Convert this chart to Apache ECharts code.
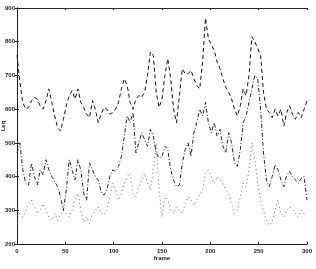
<!DOCTYPE html>
<html><head><meta charset="utf-8">
<script src="https://cdn.jsdelivr.net/npm/echarts@6/dist/echarts.min.js"></script>
<style>html,body{margin:0;padding:0;background:#fff}#c{width:316px;height:269px}</style>
</head><body><div id="c"></div>
<script>
const frames = [];
for (let f = 0; f <= 300; f += 3) frames.push(f);
const xTicks = [0, 50, 100, 150, 200, 250, 300];
const yTicks = [200, 300, 400, 500, 600, 700, 800, 900];
const upper = [760,680,620,600,605,625,635,630,610,600,625,660,620,580,545,535,570,610,640,655,630,660,620,605,585,575,625,600,560,585,605,600,585,590,600,620,660,690,670,620,600,630,640,635,650,700,770,760,650,605,630,700,750,690,600,560,640,720,705,705,715,690,670,660,740,870,810,790,775,740,720,690,665,650,630,600,580,610,660,640,700,815,800,780,760,650,600,590,575,600,580,600,550,590,610,585,570,590,575,600,625];
const middle = [470,500,420,380,375,440,400,375,420,405,450,420,400,385,370,340,300,360,450,420,390,450,420,350,330,440,420,400,390,355,345,360,400,420,415,430,460,520,580,560,590,470,500,530,510,490,540,520,470,455,460,490,480,420,390,370,375,440,480,500,460,530,560,600,580,620,560,530,560,520,540,490,470,530,500,440,430,480,560,580,620,660,700,690,600,470,390,370,400,435,420,390,370,405,415,400,390,380,395,400,330];
const lower = [300,290,280,300,320,330,310,290,300,320,300,280,270,290,270,290,300,290,280,300,330,350,300,265,280,260,290,300,310,290,285,300,340,380,360,330,350,380,400,410,350,340,370,390,410,380,360,420,500,360,280,340,330,300,290,310,300,290,320,340,330,315,330,345,360,410,420,400,380,400,390,380,360,350,320,290,300,340,380,370,420,500,450,380,330,300,270,255,265,300,330,290,280,300,310,305,290,280,300,290,295];

const pair = arr => frames.map((f, i) => [f, arr[i]]);
const lab = {fontSize: 6, color: '#222', fontFamily: 'Liberation Sans', fontWeight: 'bold'};
const ax = {lineStyle: {color: '#222', width: 1}};
const chart = echarts.init(document.getElementById('c'));
chart.setOption({
  animation: false,
  backgroundColor: '#fff',
  grid: {left: 17, right: 9, top: 8, bottom: 25, containLabel: false, outerBoundsMode: 'none'},
  xAxis: [
    {type: 'value', min: 0, max: 300, interval: 50, position: 'bottom',
     name: 'frame', nameLocation: 'middle', nameGap: 11, nameMoveOverlap: false,
     nameTextStyle: {fontSize: 6, color: '#222', fontFamily: 'Liberation Sans', fontWeight: 'bold'},
     axisLine: ax, axisTick: {inside: true, length: 2, lineStyle: {color: '#222'}},
     axisLabel: Object.assign({margin: 4, formatter: v => xTicks.includes(v) ? String(v) : ''}, lab),
     splitLine: {show: false}},
    {type: 'value', min: 0, max: 300, interval: 50, position: 'top',
     axisLine: ax, axisTick: {inside: true, length: 2, lineStyle: {color: '#222'}},
     axisLabel: {show: false}, splitLine: {show: false}}
  ],
  yAxis: [
    {type: 'value', min: 200, max: 900, interval: 100, position: 'left',
     name: 'Leq', nameLocation: 'middle', nameGap: 11, nameRotate: 90, nameMoveOverlap: false,
     nameTextStyle: {fontSize: 6, color: '#222', fontFamily: 'Liberation Sans', fontWeight: 'bold'},
     axisLine: ax, axisTick: {inside: true, length: 2, lineStyle: {color: '#222'}},
     axisLabel: Object.assign({margin: 2, formatter: v => yTicks.includes(v) ? String(v) : ''}, lab),
     splitLine: {show: false}},
    {type: 'value', min: 200, max: 900, interval: 100, position: 'right',
     axisLine: ax, axisTick: {inside: true, length: 2, lineStyle: {color: '#222'}},
     axisLabel: {show: false}, splitLine: {show: false}}
  ],
  series: [
    {type: 'line', data: pair(upper), symbol: 'none', lineStyle: {color: '#111', width: 1, type: [4, 3]}},
    {type: 'line', data: pair(middle), symbol: 'none', lineStyle: {color: '#222', width: 1, type: [4, 2, 1, 2]}},
    {type: 'line', data: pair(lower), symbol: 'none', lineStyle: {color: '#444', width: 0.8, type: [1, 3]}}
  ]
});
</script></body></html>
